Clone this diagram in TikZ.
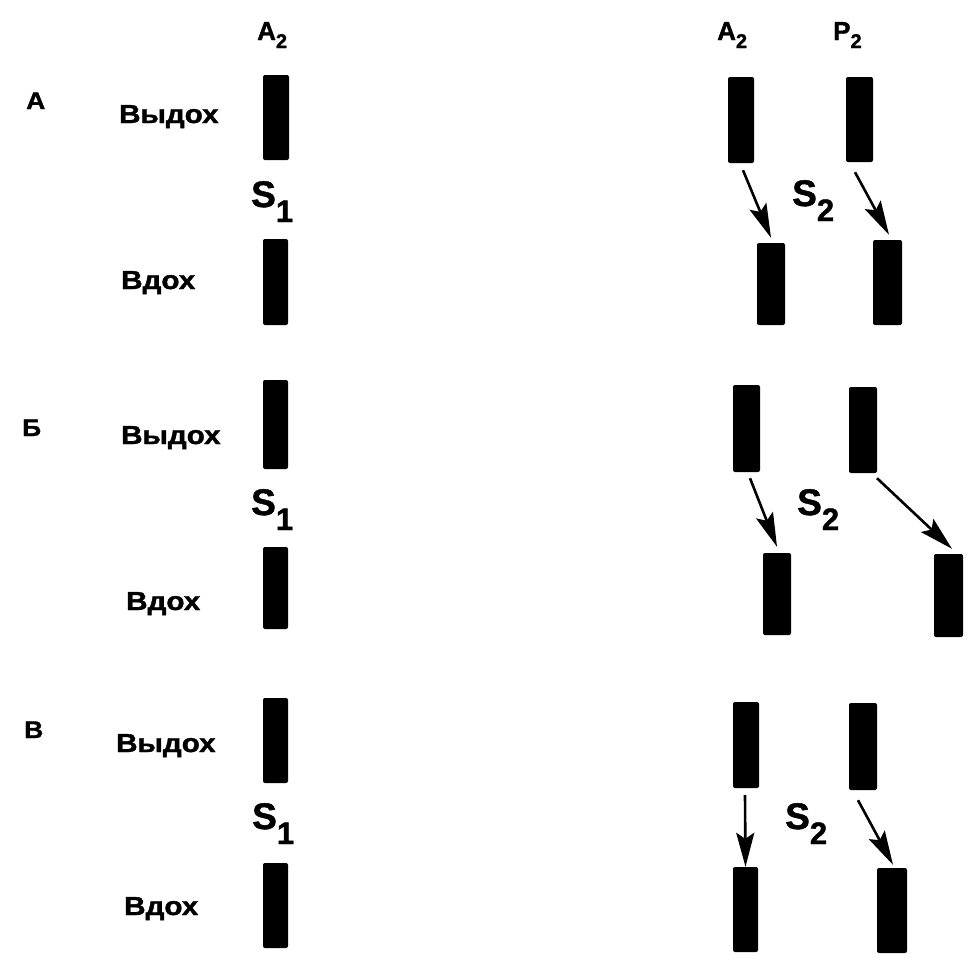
\documentclass[tikz,border=0pt]{standalone}
\usepackage{fontspec}
\setmainfont{Liberation Sans}[BoldFeatures={FakeBold=1.3}]
\usetikzlibrary{arrows.meta}
\tikzset{
  bar/.style={fill=black,draw=none,inner sep=0pt,rounded corners=2pt,minimum width=26pt,minimum height=85pt},
  wlbl/.style={inner sep=0pt,anchor=base west,font=\bfseries\fontsize{26}{26}\selectfont},
  plbl/.style={inner sep=0pt,anchor=base west,font=\bfseries\fontsize{24}{24}\selectfont},
  hlbl/.style={inner sep=0pt,anchor=base west,font=\bfseries\fontsize{26}{26}\selectfont},
  slbl/.style={inner sep=0pt,anchor=base west,font=\bfseries\fontsize{37}{37}\selectfont},
  conn/.style={line width=2.6pt,-{Stealth[length=34pt,width=18pt,inset=6pt]}}
}
\newcommand{\wide}[1]{\scalebox{1.14}[1]{#1}}
\newcommand{\hsub}[1]{\raisebox{-8pt}{\fontsize{20}{20}\selectfont #1}}
\newcommand{\ssub}[1]{\raisebox{-15pt}{\fontsize{31}{31}\selectfont #1}}
\begin{document}
\begin{tikzpicture}[x=1pt,y=-1pt]
\useasboundingbox (0,0) rectangle (980,962);
% headers
\node[hlbl] (hA1) at (257,40) {A\hsub{2}};
\node[hlbl] (hA2) at (717,40) {A\hsub{2}};
\node[hlbl] (hP2) at (833,40) {P\hsub{2}};
% panel letters
\node[plbl] (pA) at (26,109) {\scalebox{1.1}[1]{А}};
\node[plbl] (pB) at (22,436) {\scalebox{1.1}[1]{Б}};
\node[plbl] (pV) at (24,738) {\scalebox{1.1}[1]{В}};
% row labels
\node[wlbl] (exA) at (119,123) {\wide{Выдох}};
\node[wlbl] (inA) at (121,289) {\wide{Вдох}};
\node[wlbl] (exB) at (121,444) {\wide{Выдох}};
\node[wlbl] (inB) at (126,610) {\wide{Вдох}};
\node[wlbl] (exV) at (116,752) {\wide{Выдох}};
\node[wlbl] (inV) at (124,915) {\wide{Вдох}};
% S labels
\node[slbl] (s1A) at (251,207) {S\ssub{1}};
\node[slbl] (s1B) at (251,515) {S\ssub{1}};
\node[slbl] (s1V) at (252,829) {S\ssub{1}};
\node[slbl] (s2A) at (792,206) {S\ssub{2}};
\node[slbl] (s2B) at (797,515) {S\ssub{2}};
\node[slbl] (s2V) at (785,829) {S\ssub{2}};
% panel A bars
\node[bar] (Alt) at (276,117.5) {};
\node[bar,minimum width=25pt,minimum height=86pt] (Alb) at (275.5,282) {};
\node[bar,minimum height=86pt] (Aat) at (741,120) {};
\node[bar,minimum width=27pt] (Apt) at (859.5,119.5) {};
\node[bar,minimum width=28pt,minimum height=82pt] (Aab) at (771,284) {};
\node[bar,minimum width=29pt] (Apb) at (887.5,282.5) {};
% panel B bars
\node[bar,minimum width=25pt,minimum height=89pt] (Blt) at (275.5,424.5) {};
\node[bar,minimum width=25pt,minimum height=82pt] (Blb) at (275.5,588) {};
\node[bar,minimum width=27pt,minimum height=87pt] (Bat) at (746.5,428.5) {};
\node[bar,minimum width=28pt,minimum height=86pt] (Bpt) at (863,430) {};
\node[bar,minimum width=28pt,minimum height=82pt] (Bab) at (777,594) {};
\node[bar,minimum width=29pt,minimum height=83pt] (Bpb) at (948.5,595.5) {};
% panel V bars
\node[bar,minimum width=25pt] (Vlt) at (275.5,740.5) {};
\node[bar,minimum width=25pt] (Vlb) at (275.5,905.5) {};
\node[bar,minimum height=86pt] (Vat) at (746,745) {};
\node[bar,minimum width=28pt,minimum height=87pt] (Vpt) at (863,746.5) {};
\node[bar,minimum width=25pt] (Vab) at (745.5,909.5) {};
\node[bar,minimum width=30pt] (Vpb) at (892,910.5) {};
% connectors
\draw[conn] ([shift={(2,7)}]Aat.south) -- ([shift={(0,-5)}]Aab.north);
\draw[conn] ([shift={(-4.5,10)}]Apt.south) -- ([shift={(1.5,-5)}]Apb.north);
\draw[conn] ([shift={(3.5,6)}]Bat.south) -- ([shift={(0,-6)}]Bab.north);
\draw[conn] ([shift={(14,5)}]Bpt.south) -- ([shift={(3.5,-5)}]Bpb.north);
\draw[conn] ([shift={(-1,7)}]Vat.south) -- ([shift={(0,0)}]Vab.north);
\draw[conn] ([shift={(-5,10)}]Vpt.south) -- ([shift={(1,-3)}]Vpb.north);
\end{tikzpicture}
\end{document}
